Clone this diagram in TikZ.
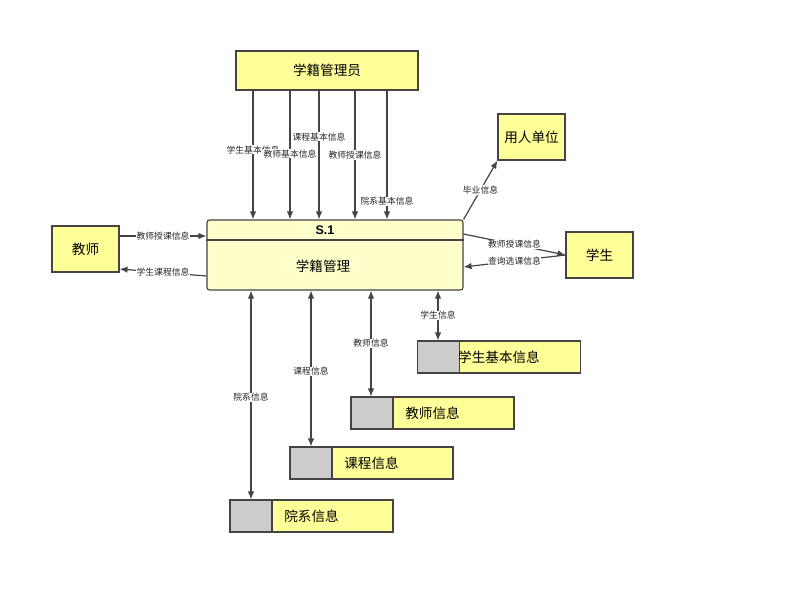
\documentclass[tikz,border=0pt]{standalone}
\usepackage{fontspec}
\setmainfont{Noto Sans CJK SC}
\newfontfamily\latinbf{Liberation Sans}
\usepackage{xcolor}
\usetikzlibrary{positioning,arrows.meta}
\definecolor{entfill}{HTML}{FFFF99}
\definecolor{procfill}{HTML}{FFFFCC}
\definecolor{storegray}{HTML}{CCCCCC}
\definecolor{edge}{HTML}{444444}

\begin{document}
\begin{tikzpicture}[x=1pt,y=-1pt,
  entity/.style={draw=edge,line width=1.1pt,fill=entfill,inner sep=0pt,
                 font=\fontsize{13.6}{15}\selectfont},
  proc/.style={draw=edge,line width=1.1pt,fill=procfill,rounded corners=2.5pt,
               minimum width=256pt,minimum height=70pt,inner sep=0pt},
  store/.style={draw=edge,line width=1.1pt,fill=entfill,minimum width=163pt,
                minimum height=32pt,inner sep=0pt,font=\fontsize{13.6}{15}\selectfont,
                path picture={\fill[storegray] (path picture bounding box.south west)
                  rectangle ([xshift=42pt]path picture bounding box.north west);
                  \draw[edge,line width=1.1pt] ([xshift=42pt]path picture bounding box.south west)
                  -- ([xshift=42pt]path picture bounding box.north west);}},
  lbl/.style={fill=white,inner sep=0.4pt,font=\fontsize{8.8}{9.5}\selectfont,text=black!85},
  arr/.style={-{Latex[length=8pt,width=6.5pt]},draw=edge,line width=1.2pt},
  darr/.style={{Latex[length=8pt,width=6.5pt]}-{Latex[length=8pt,width=6.5pt]},draw=edge,line width=1.2pt}]
  \useasboundingbox (0,0) rectangle (791,594);

  \node[entity,minimum width=182pt,minimum height=39pt] (adm) at (327,70.5) {学籍管理员};
  \node[entity,minimum width=67pt,minimum height=46pt] (tch) at (85.5,249) {教师};
  \node[entity,minimum width=67pt,minimum height=46pt] (emp) at (531.5,137) {用人单位};
  \node[entity,minimum width=67pt,minimum height=46pt] (stu) at (599.5,255) {学生};

  \node[proc] (proc) at (335,255) {};
  \draw[edge,line width=1.1pt] (proc.west |- 0,240) -- (proc.east |- 0,240);
  \node[font=\latinbf\bfseries\fontsize{12.5}{14}\selectfont] (pid) at (325,230) {S.1};
  \node[font=\fontsize{13.6}{15}\selectfont] (pname) at (323,266) {学籍管理};

  \node[store] (sbase) at (499,357) {学生基本信息};
  \node[store] (stch) at (432.5,413) {教师信息};
  \node[store] (scrs) at (371.5,463) {课程信息};
  \node[store] (sdep) at (311.5,516) {院系信息};

  \draw[arr] (adm.south -| 253,0) -- (proc.north -| 253,0) node[lbl,pos=0.46] {学生基本信息};
  \draw[arr] (adm.south -| 290,0) -- (proc.north -| 290,0) node[lbl,pos=0.49] {教师基本信息};
  \draw[arr] (adm.south -| 319,0) -- (proc.north -| 319,0) node[lbl,pos=0.36] {课程基本信息};
  \draw[arr] (adm.south -| 355,0) -- (proc.north -| 355,0) node[lbl,pos=0.5] {教师授课信息};
  \draw[arr] (adm.south -| 387,0) -- (proc.north -| 387,0) node[lbl,pos=0.86] {院系基本信息};

  \draw[arr] (tch.east |- 0,236) -- (proc.west |- 0,236) node[lbl,pos=0.5] {教师授课信息};
  \draw[arr] (proc.west |- 0,276) -- (tch.east |- 0,269) node[lbl,pos=0.5] {学生课程信息};

  \draw[arr] (proc.north east) -- (emp.south west) node[lbl,pos=0.5] {毕业信息};
  \draw[arr] (proc.east |- 0,234) -- (stu.west) node[lbl,pos=0.5] {教师授课信息};
  \draw[arr] (stu.west) -- (proc.east |- 0,267) node[lbl,pos=0.5] {查询选课信息};

  \draw[darr] (proc.south -| 251,0) -- (sdep.north -| 251,0) node[lbl,pos=0.51] {院系信息};
  \draw[darr] (proc.south -| 311,0) -- (scrs.north -| 311,0) node[lbl,pos=0.52] {课程信息};
  \draw[darr] (proc.south -| 371,0) -- (stch.north -| 371,0) node[lbl,pos=0.5] {教师信息};
  \draw[darr] (proc.south -| 438,0) -- (sbase.north -| 438,0) node[lbl,pos=0.49] {学生信息};
\end{tikzpicture}
\end{document}
